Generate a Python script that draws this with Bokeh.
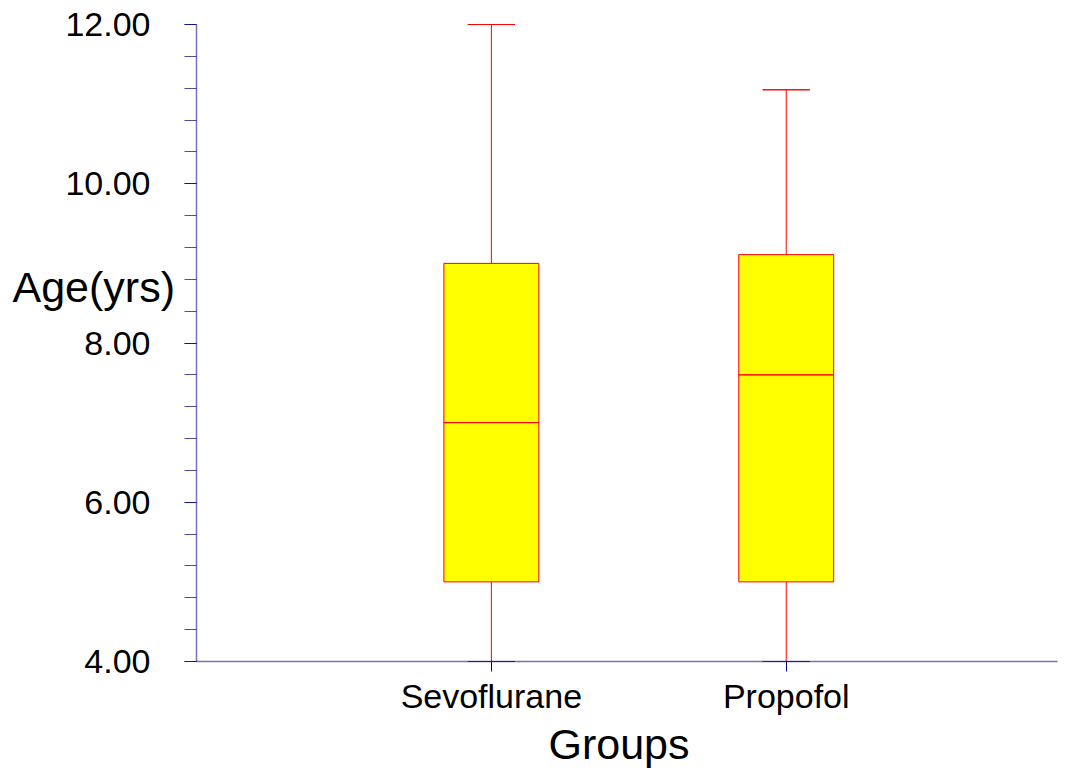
from bokeh.plotting import figure
from bokeh.models import FixedTicker, Label, ColumnDataSource, Range1d
from bokeh.embed import file_html
from bokeh.resources import INLINE
import numpy as np

groups = ["Sevoflurane", "Propofol"]
positions = [1, 2]
lower_whisker = [4.0, 4.0]
q1 = [5.0, 5.0]
median = [7.0, 7.6]
q3 = [9.0, 9.11]
upper_whisker = [12.0, 11.18]

major_ticks = [4, 6, 8, 10, 12]
tick_labels = {4: "4.00", 6: "6.00", 8: "8.00", 10: "10.00", 12: "12.00"}
x_label = "Groups"
y_label = "Age(yrs)"

# layout (pixels on canvas)
W, H = 1071, 770
ax_left, ax_right, ax_top, ax_bottom = 196, 1057, 24, 661
x_lo, x_hi = 0.0, 2.92
y_lo, y_hi = 4.0, 12.0
ppx = (ax_right - ax_left) / (x_hi - x_lo)
ppy = (ax_bottom - ax_top) / (y_hi - y_lo)
xr = Range1d(x_lo - ax_left / ppx, x_hi + (W - ax_right) / ppx)
yr = Range1d(y_lo - (H - ax_bottom) / ppy, y_hi + ax_top / ppy)

box_w = 0.322
cap_w = 0.16
axis_color = "#000080"
red = "#ff0000"

p = figure(width=W, height=H, output_backend="svg", toolbar_location=None,
           x_range=xr, y_range=yr,
           min_border_left=0, min_border_right=0, min_border_top=0, min_border_bottom=0)
p.outline_line_color = None
p.xgrid.visible = False
p.ygrid.visible = False
p.background_fill_color = "white"
p.border_fill_color = "white"

src = ColumnDataSource(dict(x=positions, lw=lower_whisker, q1=q1, med=median, q3=q3, uw=upper_whisker))

# whiskers
p.segment(x0="x", y0="q3", x1="x", y1="uw", source=src, line_color=red, line_width=1)
p.segment(x0="x", y0="lw", x1="x", y1="q1", source=src, line_color=red, line_width=1)
# caps
p.rect(x="x", y="uw", width=cap_w, height=0.0001, source=src, line_color=red, fill_color=None, line_width=1)
p.rect(x="x", y="lw", width=cap_w, height=0.0001, source=src, line_color=red, fill_color=None, line_width=1)
# boxes
p.vbar(x="x", bottom="q1", top="q3", width=box_w, source=src, fill_color="#ffff00", line_color=red, line_width=1)
# medians
p.rect(x="x", y="med", width=box_w, height=0.0001, source=src, line_color=red, fill_color=None, line_width=1)

# x axis (fixed at y = 4)
xa = p.xaxis[0]
xa.fixed_location = y_lo
xa.bounds = (x_lo, x_hi)
xa.ticker = FixedTicker(ticks=positions)
xa.major_label_overrides = {pos: g for pos, g in zip(positions, groups)}
xa.major_label_text_font = "Liberation Sans"
xa.major_label_text_font_size = "34px"
xa.major_label_text_color = "black"
xa.major_label_standoff = 5
xa.major_tick_out = 10
xa.major_tick_in = 0
xa.minor_tick_line_color = None
xa.axis_line_color = axis_color
xa.axis_line_alpha = 0.55
xa.axis_line_width = 1.5
xa.major_tick_line_color = axis_color

# y axis (fixed at x = 0)
ya = p.yaxis[0]
ya.fixed_location = x_lo
ya.bounds = (y_lo, y_hi)
ya.ticker = FixedTicker(ticks=major_ticks, minor_ticks=list(np.round(np.arange(4, 12.01, 0.4), 2)))
ya.major_label_overrides = tick_labels
ya.major_label_text_font = "Liberation Sans"
ya.major_label_text_font_size = "34px"
ya.major_label_text_color = "black"
ya.major_label_standoff = 34
ya.major_tick_out = 12
ya.major_tick_in = 0
ya.minor_tick_out = 12
ya.minor_tick_in = 0
ya.axis_line_color = axis_color
ya.axis_line_alpha = 0.55
ya.axis_line_width = 1.5
ya.major_tick_line_color = axis_color
ya.major_tick_line_alpha = 0.7
ya.minor_tick_line_color = axis_color
ya.minor_tick_line_alpha = 0.7

p.add_layout(Label(x=xr.start + 12 / ppx, y=8.52 + 15 / ppy, text=y_label,
                   text_font="Liberation Sans", text_font_size="43px",
                   text_color="black", text_baseline="alphabetic", text_align="left"))
p.add_layout(Label(x=(x_lo + x_hi) / 2 - 8 / ppx, y=y_lo - 82 / ppy, text=x_label,
                   text_font="Liberation Sans", text_font_size="43px",
                   text_color="black", text_baseline="alphabetic", text_align="center"))

open("out.html", "w").write(file_html(p, INLINE))
